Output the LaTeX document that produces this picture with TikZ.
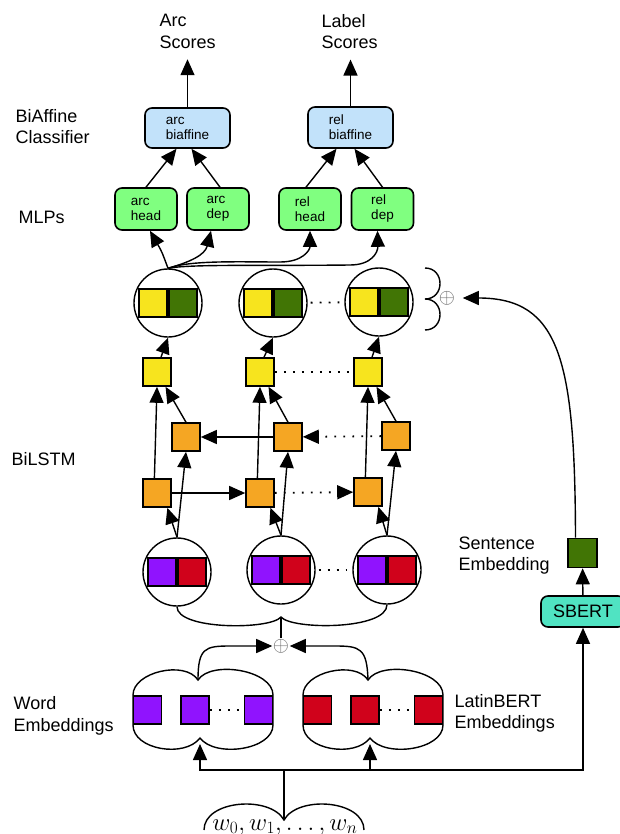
\documentclass[tikz,border=0pt]{standalone}
\usepackage{fontspec}
\setmainfont{Liberation Sans}
\usetikzlibrary{arrows.meta,calc,positioning}
\definecolor{cyel}{RGB}{247,228,30}
\definecolor{cdkg}{RGB}{65,117,5}
\definecolor{corg}{RGB}{245,166,35}
\definecolor{cpur}{RGB}{144,19,254}
\definecolor{cred}{RGB}{208,2,27}
\definecolor{cblue}{RGB}{194,226,250}
\definecolor{cgreen}{RGB}{128,255,128}
\definecolor{cteal}{RGB}{80,227,194}

\begin{document}
\begin{tikzpicture}[x=1pt, y=-1pt, line width=1.4pt, >={Triangle[length=16pt,width=14pt]},
  lbl/.style={anchor=west, align=left, inner sep=0, font=\fontsize{18}{21.5}\selectfont},
  btxt/.style={font=\fontsize{13.5}{15}\selectfont, align=left},
  rbox/.style={draw, rounded corners=7pt, line width=1.6pt, inner sep=0},
  cell/.style={draw, line width=1.6pt, minimum size=28pt, inner sep=0},
  ring/.style={circle, draw, minimum size=68pt, inner sep=0},
  dots/.style={line width=1.8pt, dash pattern=on 1.8pt off 7.2pt},
  osum/.style={inner sep=0, text=black!60, font=\fontsize{20}{20}\selectfont}]
\useasboundingbox (0,0) rectangle (619,834);

\node[lbl] (arcsc) at (159,31.5) {Arc\\Scores};
\node[lbl] (labsc) at (321,31.5) {Label\\Scores};
\node[lbl] (biaf) at (15,126.5) {BiAffine\\Classifier};
\node[lbl] (mlps) at (18,217) {MLPs};
\node[lbl] (bilstm) at (11,459) {BiLSTM};
\node[lbl] (wemb) at (13,716) {Word\\Embeddings};
\node[lbl] (lemb) at (454,713.5) {LatinBERT\\Embeddings};
\node[lbl] (semb) at (458,555.5) {Sentence\\Embedding};

\node[rbox, fill=cblue, minimum width=85pt, minimum height=40pt, btxt] (arcbi) at (187.5,128) {arc\\biaffine};
\node[rbox, fill=cblue, minimum width=85pt, minimum height=41pt, btxt] (relbi) at (350.5,127.5) {rel\\biaffine};
\foreach \nm/\x/\a/\b in {archead/146/arc/head, arcdep/218/arc/dep, relhead/310/rel/head, reldep/382.5/rel/dep}
  \node[rbox, fill=cgreen, minimum width=62pt, minimum height=42pt, btxt] (\nm) at (\x,209) {\a\\\b};

\draw[->, shorten >=10pt] (arcbi.north) -- (arcbi.north |- arcsc.south);
\draw[->, shorten >=10pt] (relbi.north) -- (relbi.north |- labsc.south);
\draw[->] (archead.north) -- ($(arcbi.south)+(-11,0)$);
\draw[->] ($(arcdep.north)+(2,0)$) -- ($(arcbi.south)+(4,0)$);
\draw[->] ($(relhead.north)+(-4,0)$) -- ($(relbi.south)+(-14,0)$);
\draw[->] (reldep.north) -- ($(relbi.south)+(4,0)$);

\foreach \i/\x/\y in {1/168/303, 2/273/303, 3/379/302}{
  \node[ring] (hc\i) at (\x,\y) {};
  \node[cell, fill=cyel, left=0pt of hc\i.center] (hy\i) {};
  \node[cell, fill=cdkg, right=0pt of hc\i.center] (hg\i) {};
}
\foreach \i/\x/\y in {1/177/572, 2/281/570, 3/387/570}{
  \node[ring] (wc\i) at (\x,\y) {};
  \node[cell, fill=cpur, left=0pt of wc\i.center] (wp\i) {};
  \node[cell, fill=cred, right=0pt of wc\i.center] (wr\i) {};
}
\foreach \i/\x in {1/157, 2/260, 3/368}
  \node[cell, fill=cyel] (y\i) at (\x,372) {};
\foreach \i/\x/\y in {1/157/493, 2/260/493, 3/368/492}
  \node[cell, fill=corg] (f\i) at (\x,\y) {};
\foreach \i/\x/\y in {1/186/437, 2/288/437, 3/396/436}
  \node[cell, fill=corg] (b\i) at (\x,\y) {};

\foreach \i in {1,2,3}{
  \draw[->] ($(y\i.north)+(4,0)$) -- (hc\i.south);
  \draw[->] (f\i.100) -- (y\i.south);
  \draw[->] (b\i.north) -- (y\i.-60);
  \draw[->] (wc\i.north) -- (f\i.-55);
  \draw[->] (wc\i.north) -- (b\i.south);
}
\draw[->] (f1) -- (f2);
\draw[->, dots] (f2) -- (f3);
\draw[->] (b2) -- (b1);
\draw[->, dots] (b3) -- (b2);
\draw[dots, shorten <=3pt, shorten >=5pt] (hc2) -- (hc3);
\draw[dots] (y2) -- (y3);
\draw[dots, shorten <=3pt, shorten >=5pt] (wc2) -- (wc3);

\draw[->] (hc1.north) .. controls (162,252) .. ($(archead.south)+(4,0)$);
\draw[->] (hc1.north) .. controls (190,262) and (205,255) .. ($(arcdep.south)+(-7,0)$);
\draw[->] (hc1.north) .. controls (190,260) and (240,262) .. (280,262) .. controls (303,262) and (310,250) .. (relhead.south);
\draw[->] (hc1.north) .. controls (190,264) and (260,266) .. (350,265) .. controls (372,265) and (378,252) .. ($(reldep.south)+(-5,0)$);

\draw (425,268) .. controls (445,268) and (445,299) .. (425,299) .. controls (445,299) and (445,330) .. (425,330);
\node[osum] (tsum) at (447,298) {$\oplus$};

\draw (wc1.south) .. controls (177,630) and (270,630) .. (281,617) coordinate (wcusp) .. controls (292,630) and (387,630) .. (wc3.south);
\node[osum] (sum) at (281,646) {$\oplus$};
\draw (wcusp) -- (sum);

\foreach \nm/\dx/\col in {we/0/cpur, lb/170/cred}{
  \begin{scope}[xshift=\dx]
    \draw (133,725) -- (133,695) .. controls (133,672) and (185,660) .. (198,680) coordinate (\nm-top)
      .. controls (211,660) and (273,670) .. (273,695) -- (273,725)
      .. controls (273,750) and (215,758) .. (200,738) coordinate (\nm-bot)
      .. controls (185,758) and (133,750) .. (133,725) -- cycle;
    \foreach \j/\x in {1/147.5, 2/195, 3/258.5}
      \node[cell, fill=\col] (\nm\j) at (\x,710) {};
  \end{scope}
  \draw[dots] (\nm2) -- (\nm3);
}
\draw[->] (we-top) .. controls (198,648) and (205,646) .. (230,646) -- (sum);
\draw[->] (lb-top) .. controls (367,648) and (360,646) .. (335,646) -- (sum);

\node[rbox, fill=cteal, minimum width=84pt, minimum height=31pt, font=\fontsize{18}{20}\selectfont] (sbert) at (583,611.5) {SBERT};
\node[cell, fill=cdkg, minimum size=29pt] (sent) at (582.5,553) {};
\draw[->] (sbert) -- (sent);
\draw[->, shorten >=7pt] ($(sent.north)+(-7,0)$) .. controls (575,360) and (560,298) .. (tsum);

\coordinate (split) at (284,770);
\draw[->, shorten >=6pt] (split) -| (we-bot);
\draw[->, shorten >=6pt] (split) -| (lb-bot);
\draw[->] (split) -| (sbert.south);
\draw (204,830) .. controls (204,800) and (270,795) .. (284,820) coordinate (icusp)
  .. controls (298,795) and (364,800) .. (364,830);
\draw (split) -- (icusp);
\node[anchor=base, inner sep=0, font=\fontsize{23}{23}\selectfont] (inp) at (285,830) {$w_0, w_1, \ldots, w_n$};
\end{tikzpicture}
\end{document}
